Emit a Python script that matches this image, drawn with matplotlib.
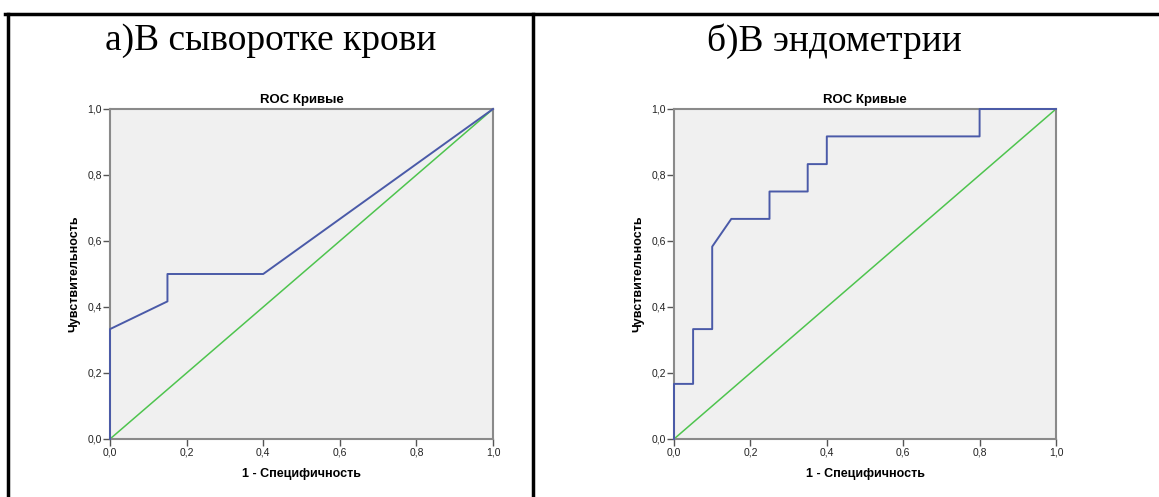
import matplotlib.pyplot as plt
from matplotlib.lines import Line2D
from matplotlib.ticker import FuncFormatter

# panel titles
panel_titles = ['а)В сыворотке крови', 'б)В эндометрии']

# ROC curve a) serum
fpr_serum = [0.0, 0.0, 0.15, 0.15, 0.40, 1.0]
tpr_serum = [0.0, 0.333, 0.417, 0.50, 0.50, 1.0]

# ROC curve b) endometrium
fpr_endo = [0.0, 0.0, 0.05, 0.05, 0.10, 0.10, 0.15, 0.25, 0.25, 0.35, 0.35, 0.40, 0.40, 0.80, 0.80, 1.0]
tpr_endo = [0.0, 0.167, 0.167, 0.333, 0.333, 0.583, 0.667, 0.667, 0.75, 0.75, 0.833, 0.833, 0.917, 0.917, 1.0, 1.0]

ref_line = [0.0, 1.0]
ticks = [0.0, 0.2, 0.4, 0.6, 0.8, 1.0]

fig = plt.figure(figsize=(11.59, 4.97), dpi=100)

# table borders
fig.add_artist(Line2D([5 / 1159, 1.0], [1 - 14 / 497, 1 - 14 / 497], color='black', lw=2.5))
fig.add_artist(Line2D([8 / 1159, 8 / 1159], [0, 1 - 14 / 497], color='black', lw=2.5))
fig.add_artist(Line2D([533 / 1159, 533 / 1159], [0, 1 - 14 / 497], color='black', lw=2.5))

fig.text(271 / 1159, 1 - 41 / 497, panel_titles[0], ha='center', va='center',
         fontsize=27, family='Liberation Serif')
fig.text(834 / 1159, 1 - 41 / 497, panel_titles[1], ha='center', va='center',
         fontsize=27, family='Liberation Serif')

comma = FuncFormatter(lambda v, p: f'{v:.1f}'.replace('.', ','))

axes_pos = [[110 / 1159, 58 / 497, 383 / 1159, 330 / 497],
            [674 / 1159, 58 / 497, 382 / 1159, 330 / 497]]
curves = [(fpr_serum, tpr_serum), (fpr_endo, tpr_endo)]

for pos, (fx, ty) in zip(axes_pos, curves):
    ax = fig.add_axes(pos)
    ax.set_facecolor('#f0f0f0')
    ax.plot(ref_line, ref_line, color='#4ec44e', lw=1.1)
    ax.plot(fx, ty, color='#4a5aa8', lw=1.4, zorder=5, clip_on=False)
    ax.set_xlim(0, 1)
    ax.set_ylim(0, 1)
    ax.set_xticks(ticks)
    ax.set_yticks(ticks)
    ax.xaxis.set_major_formatter(comma)
    ax.yaxis.set_major_formatter(comma)
    for s in ax.spines.values():
        s.set_color('#8a8a8a')
        s.set_linewidth(1.5)
    ax.tick_params(length=5, width=1, color='#555555', labelsize=7.5,
                   labelcolor='#222222', pad=1)
    for lab in ax.get_xticklabels() + ax.get_yticklabels():
        lab.set_family('Liberation Sans')
    ax.set_title('ROC Кривые', fontsize=9.5, fontweight='bold', family='Liberation Sans', pad=4)
    ax.set_xlabel('1 - Специфичность', fontsize=9, fontweight='bold', family='Liberation Sans', labelpad=8)
    ax.set_ylabel('Чувствительность', fontsize=9, fontweight='bold', family='Liberation Sans', labelpad=5)

plt.savefig('out.png', dpi=100)
